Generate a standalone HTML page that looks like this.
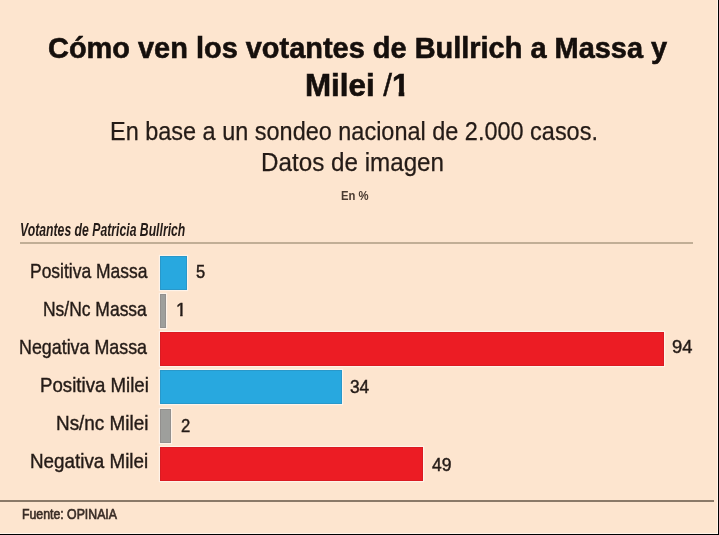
<!DOCTYPE html>
<html lang="es">
<head>
<meta charset="utf-8">
<title>Cómo ven los votantes de Bullrich a Massa y Milei</title>
<style>
html, body { margin: 0; padding: 0; }
body { width: 719px; height: 535px; overflow: hidden; position: relative; background: #fde5cf;
  font-family: 'Liberation Sans', Arial, sans-serif; }
.t { position: absolute; white-space: nowrap; line-height: 1; transform-origin: 0 0; }
#w { position:absolute; left:0; top:0; width:719px; height:535px; will-change:transform; }
.bar { position: absolute; left: 160.2px; height: 34.2px; box-shadow: 0 0 1px 1px rgba(255,255,255,.55), inset 0 0 0 1px rgba(60,20,20,.10); }
</style>
</head>
<body>
<div id="w">
<div class="t" style="left:48.14px;top:32.80px;font-weight:bold;font-size:30px;-webkit-text-stroke:0.6px #150f0c;color:#150f0c;transform:scaleX(0.9646);">Cómo ven los votantes de Bullrich a Massa y</div>
<div class="t" style="left:305.10px;top:70.20px;font-weight:bold;font-size:30.5px;-webkit-text-stroke:0.6px #150f0c;color:#150f0c;transform:scaleX(1.0274);">Milei <span style="font-weight:normal;-webkit-text-stroke:0.5px #150f0c">/</span><span style="display:inline-block;clip-path:polygon(0 0,17px 0,17px 21.6px,11.9px 21.6px,11.9px 31px,6.4px 31px,6.4px 21.6px,0 21.6px)">1</span></div>
<div class="t" style="left:109.64px;top:119.40px;font-size:25.3px;-webkit-text-stroke:0.25px #241b17;color:#241b17;transform:scaleX(0.9276);">En base a un sondeo nacional de 2.000 casos.</div>
<div class="t" style="left:261.29px;top:150.20px;font-size:25.3px;-webkit-text-stroke:0.25px #241b17;color:#241b17;transform:scaleX(0.9571);">Datos de imagen</div>
<div class="t" style="left:340.73px;top:189.90px;font-size:12.6px;font-weight:bold;color:#4a3b31;transform:scaleX(0.8975);">En %</div>
<div class="t" style="left:19.51px;top:221.00px;font-size:18.6px;font-style:italic;font-weight:bold;color:#241b17;transform:scaleX(0.6576);">Votantes de Patricia Bullrich</div>
<div class="t" style="left:29.60px;top:260.60px;font-size:20.2px;-webkit-text-stroke:0.4px #241b17;color:#241b17;transform:scaleX(0.8654);">Positiva Massa</div>
<div class="t" style="left:43.30px;top:298.60px;font-size:20.2px;-webkit-text-stroke:0.4px #241b17;color:#241b17;transform:scaleX(0.8648);">Ns/Nc Massa</div>
<div class="t" style="left:19.17px;top:336.60px;font-size:20.2px;-webkit-text-stroke:0.4px #241b17;color:#241b17;transform:scaleX(0.8843);">Negativa Massa</div>
<div class="t" style="left:40.01px;top:374.50px;font-size:20.2px;-webkit-text-stroke:0.4px #241b17;color:#241b17;transform:scaleX(0.9243);">Positiva Milei</div>
<div class="t" style="left:56.40px;top:412.60px;font-size:20.2px;-webkit-text-stroke:0.4px #241b17;color:#241b17;transform:scaleX(0.9365);">Ns/nc Milei</div>
<div class="t" style="left:30.30px;top:450.80px;font-size:20.2px;-webkit-text-stroke:0.4px #241b17;color:#241b17;transform:scaleX(0.9323);">Negativa Milei</div>
<div class="t" style="left:195.95px;top:263.20px;font-size:18.3px;-webkit-text-stroke:0.45px #241b17;color:#241b17;transform:scaleX(0.9000);">5</div>
<div class="t" style="left:176.10px;top:301.40px;font-size:18.3px;-webkit-text-stroke:0.45px #241b17;color:#241b17;"><span style="display:inline-block;clip-path:polygon(0 0,12px 0,12px 12.5px,6.5px 12.5px,6.5px 19px,4.1px 19px,4.1px 12.5px,0 12.5px)">1</span></div>
<div class="t" style="left:671.55px;top:338.30px;font-size:18.3px;-webkit-text-stroke:0.45px #241b17;color:#241b17;transform:scaleX(1.0026);">94</div>
<div class="t" style="left:349.93px;top:378.10px;font-size:18.3px;-webkit-text-stroke:0.45px #241b17;color:#241b17;transform:scaleX(0.9436);">34</div>
<div class="t" style="left:180.51px;top:417.30px;font-size:18.3px;-webkit-text-stroke:0.45px #241b17;color:#241b17;transform:scaleX(0.9143);">2</div>
<div class="t" style="left:431.56px;top:456.30px;font-size:18.3px;-webkit-text-stroke:0.45px #241b17;color:#241b17;transform:scaleX(0.9590);">49</div>
<div class="t" style="left:21.74px;top:507.10px;font-size:14px;-webkit-text-stroke:0.65px #3a2d26;color:#3a2d26;transform:scaleX(0.8780);">Fuente: OPINAIA</div>
</div>
<div style="position:absolute;left:20.2px;top:242px;width:673.3px;height:1.8px;background:#c1ae96;"></div>
<div class="bar" style="top:255.6px;width:26.78px;background:#28a8df;"></div>
<div class="bar" style="top:293.8px;width:5.36px;background:#9e9f9c;"></div>
<div class="bar" style="top:332.1px;width:503.37px;background:#ec1c24;"></div>
<div class="bar" style="top:370.3px;width:182.07px;background:#28a8df;"></div>
<div class="bar" style="top:408.6px;width:10.71px;background:#9e9f9c;"></div>
<div class="bar" style="top:446.6px;width:262.40px;background:#ec1c24;"></div>
<div style="position:absolute;left:0;top:499.5px;width:713.8px;height:2px;background:#8a7968;"></div>
<div style="position:absolute;left:717px;top:0;width:1px;height:534px;background:#fff4ea;"></div>
<div style="position:absolute;left:0;top:533px;width:718px;height:1px;background:#fff4ea;"></div>
<div style="position:absolute;left:718px;top:0;width:1px;height:535px;background:#000;"></div>
<div style="position:absolute;left:0;top:534px;width:719px;height:1px;background:#000;"></div>
</body>
</html>
